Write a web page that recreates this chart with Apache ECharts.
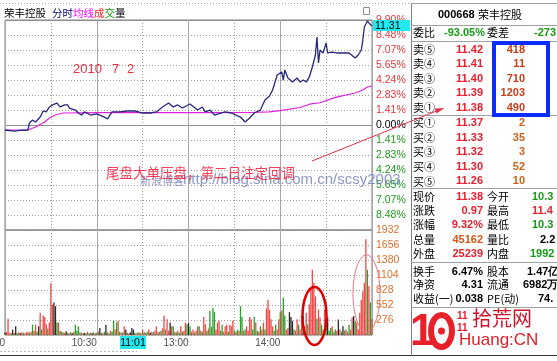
<!DOCTYPE html>
<html><head><meta charset="utf-8">
<script src="https://cdn.jsdelivr.net/npm/echarts@6/dist/echarts.min.js"></script>
<style>html,body{margin:0;padding:0;background:#fff;}#c{width:557px;height:361px;}</style>
</head><body><div id="c"></div>
<script>
// ---------- data ----------
const stockName = '荣丰控股';
const stockCode = '000668';
const pctMax = 9.90;                 // axis top / bottom in %
const volMax = 1932, volStep = 276;  // volume axis
const timeLabels = {0:'9:30', 60:'10:30', 120:'13:00', 180:'14:00'};
// price-axis tick labels, bottom (-9.90%, hidden) to top
const pctTickLabels = ['','8.48%','7.07%','5.65%','4.24%','2.83%','1.41%','0.00%','1.41%','2.83%','4.24%','5.65%','7.07%','8.48%','9.90%'];

// minute offset from 9:30 (0..240) and change vs previous close in %
const priceMinutes = [0,6,10,15,16,18,20,23,25,27,29,31,34,36,39,41,42,46,48,50,52,56,60,62,65,67,70,75,80,85,90,95,99,103,107,110,113,116,121,126,129,131,134,137,141,144,148,154,157,160,163,167,170,173,175,178,181,182,183,185,188,191,193,195,197,199,201,203,204,205,206,208,210,211,214,217,221,225,229,231,233,234,235,237,238,240];
const pricePct = [-0.47,-0.57,-0.50,-0.47,0.19,0.47,0.28,0.75,1.32,1.23,1.70,1.89,2.07,1.70,1.89,1.89,1.60,1.41,1.13,0.94,1.23,0.94,1.04,0.94,0.75,0.57,1.23,1.23,1.32,1.32,1.13,1.13,1.23,1.70,2.07,1.70,1.89,1.60,1.98,1.41,1.70,1.23,1.41,0.94,1.13,1.23,1.13,0.75,0.28,0.66,1.13,1.41,2.36,2.73,3.30,4.71,5.00,4.24,5.19,4.43,4.05,4.43,4.05,4.24,4.05,4.53,5.47,6.60,8.30,5.85,7.07,6.79,7.73,6.79,6.88,6.79,6.79,6.79,6.32,6.60,7.07,8.01,9.24,9.81,9.62,9.33];
const avgMinutes = [0,15,20,26,29,33,38,62,128,160,173,180,193,200,206,216,229,234,237,240];
const avgPct = [-0.47,-0.47,-0.19,0.28,0.66,0.94,1.13,1.16,1.16,1.18,1.23,1.35,1.65,2.00,2.10,2.60,3.02,3.30,3.58,3.68];

// per-minute volume (lots), index = minute from 9:30
const volumes = [
 40,60,300,40,30,100,40,160,30,50,
 30,50,40,30,50,60,40,60,190,80,
 190,60,160,410,100,360,330,200,120,230,
 950,560,600,530,230,230,80,60,50,40,
 70,40,30,50,30,60,190,80,160,50,
 40,30,40,30,60,30,40,30,50,30,
 40,60,130,40,30,60,190,50,30,80,
 60,260,100,230,260,60,40,50,160,100,
 40,30,50,130,100,40,30,50,40,30,
 100,50,40,60,100,40,60,50,80,160,
 50,60,80,120,360,100,290,80,230,160,
 160,60,50,80,40,160,60,80,230,200,
 220,160,60,100,50,80,160,160,80,60,
 330,200,80,120,440,150,500,420,100,230,
 260,80,190,60,160,190,60,190,160,260,
 80,60,100,80,530,330,80,100,160,80,
 330,290,100,330,230,80,60,160,100,230,
 100,490,650,460,290,160,80,190,100,290,
 420,450,690,360,100,130,420,330,260,100,
 80,290,190,100,360,345,160,410,200,560,
 840,1200,960,710,300,470,320,190,100,470,
 160,320,80,130,160,60,100,80,285,100,
 60,160,80,100,60,190,100,320,350,260,
 230,100,410,650,800,960,1760,1200,900,600,
 300];
// r = up (red), g = down (green), k = unchanged (black)
const volDir = 'krrrgkrkgr'+'krgrrrgrgr'+'rgkrgrrrgr'+'rrkkgrgrgr'+'kgrgkrgggr'+'grkgrgrkgr'+'grkgrgkrgr'+'ggrgrgrgrk'+'grkkkgrgrg'+'rgrgrkrgrr'+
 'grgrrgrrkr'+'grgrgrgrrg'+'kgrrgrrgrg'+'rrgrggggrr'+'rggrrrgrrr'+'grgrggrgrr'+'rrggrgrgrr'+'grrrrrggrr'+'grggrrkkkg'+'rrgrrkrrgr'+
 'rrrrgrrgrr'+'gkggrggrkr'+'gkrgrgrrkg'+'rrrrrrrgrg'+'r';

// quote panel
const sellLabels = ['卖⑤','卖④','卖③','卖②','卖①'];
const sellPrices = ['11.42','11.41','11.40','11.39','11.38'];
const sellVols = ['418','11','710','1203','490'];
const buyLabels = ['买①','买②','买③','买④','买⑤'];
const buyPrices = ['11.37','11.33','11.32','11.30','11.26'];
const buyVols = ['2','35','3','52','10'];
const statLabels1 = ['现价','涨跌','涨幅','总量','外盘'];
const statValues1 = ['11.38','0.97','9.32%','45162','25239'];
const statLabels2 = ['今开','最高','最低','量比','内盘'];
const statValues2 = ['10.3','11.4','10.3','2.2','1992'];
const infoLabels1 = ['换手','净资','收益(一)'];
const infoValues1 = ['6.47%','4.31','0.038'];
const infoLabels2 = ['股本','流通','PE(动)'];
const infoValues2 = ['1.47亿','6982万','74.'];
const weibi = '-93.05%', weicha = '-273';
const cursorPrice = '11.31', cursorTime = '11:01';
const dateText = ['2010','7','2'];
const noteText = '尾盘大单压盘，第二日注定回调';
const wmName = '新浪博客', wmUrl = 'http://blog.sina.com.cn/scsy2003';

// ---------- styles ----------
const CJK = '"Noto Sans CJK SC"';
const NUM = '"Liberation Sans"';
const RED = '#e8202e', GREEN = '#159a15', ORANGE = '#d0581e';
const step = pctMax / 7;

const priceData = priceMinutes.map((t,i)=>[t, pricePct[i]/step]);
const avgData = avgMinutes.map((t,i)=>[t, avgPct[i]/step]);
const dirColor = {r:'#f04848', g:'#27a327', k:'#2a2a2a'};
const volData = volumes.map((v,i)=>({value:[i, v], itemStyle:{color: dirColor[volDir[i]]}}));

const G = [];
function txt(x,y,s,fill,font,align,extra){ G.push(Object.assign({type:'text', z:100, silent:true, style:{x:x,y:y,text:s,fill:fill,font:font,align:align||'left',textAlign:align||'left',verticalAlign:'middle',textVerticalAlign:'middle'}}, extra||{})); }
function ln(x1,y1,x2,y2,stroke,w,dash,z){ G.push({type:'line', z:z||90, silent:true, shape:{x1:x1,y1:y1,x2:x2,y2:y2}, style:{stroke:stroke, lineWidth:w||1, lineDash:dash||null}}); }
function rect(x,y,w,h,style,z){ G.push({type:'rect', z:z||95, silent:true, shape:{x:x,y:y,width:w,height:h}, style:style}); }

// chart header
txt(4,13,stockName,'#000','10.5px '+CJK);
txt(52,13,'分时','#000080','10.5px '+CJK);
txt(73,13,'均线','#ff00ff','10.5px '+CJK);
txt(94,13,'成','#ff2020','10.5px '+CJK);
txt(104.5,13,'交','#10a010','10.5px '+CJK);
txt(115,13,'量','#000','10.5px '+CJK);
ln(0,3.5,411,3.5,'#a8a8a8',1,[1,2]);
rect(363.5,7.5,6,7,{fill:'#fff',stroke:'#909090',lineWidth:1},100);

// annotations
txt(73,69,dateText[0],'#e83040','13px '+NUM);
txt(112,69,dateText[1],'#e83040','13px '+NUM);
txt(127,69,dateText[2],'#e83040','13px '+NUM);
txt(140,181,wmName,'rgba(110,125,185,0.8)','11px '+CJK);
txt(183,180,wmUrl,'rgba(110,125,185,0.8)','15px '+NUM);
txt(106,173,noteText,'rgba(255,40,70,0.9)','13.5px '+CJK);
ln(312,161,441,109.2,'#e8304a',1,null,101);
G.push({type:'polygon', z:101, silent:true, shape:{points:[[444.5,108],[436.6,113.6],[434.6,108.6]]}, style:{fill:'#e8304a'}});
G.push({type:'ellipse', z:101, silent:true, shape:{cx:314.5,cy:316,rx:12,ry:29}, style:{fill:'none',stroke:'#e00000',lineWidth:2.5}});
G.push({type:'ellipse', z:101, silent:true, shape:{cx:366.5,cy:293.5,rx:13.5,ry:38.5}, style:{fill:'none',stroke:'#e87585',lineWidth:1}});

// cursor labels
rect(373,20,37,11,{fill:'#22e8f0'},100);
txt(375,25.8,cursorPrice,'#000','10.5px '+NUM,'left',{z:101});
rect(120,336,26,13,{fill:'#22e8f0'},100);
txt(133,342.8,cursorTime,'#000','10.5px '+NUM,'center',{z:101});

// bottom bar
ln(0,351.5,137,351.5,'#b8b8b8',1,[2,2]);
ln(0,355.5,557,355.5,'#333',1);

// quote panel frame
ln(411.5,3,411.5,356,'#808080',1);
[3.5,25.5,41.5,115.5,188.5,262.5,307.5].forEach(y=>ln(411,y,557,y,'#a0a0a0',1));
txt(438,15,stockCode,'#000','bold 11px '+NUM);
txt(478,15,stockName,'#000','11px '+CJK);
txt(413,33,'委比','#000','11px '+CJK);
txt(485,33,weibi,GREEN,'bold 11px '+NUM,'right');
txt(487,33,'委差','#000','11px '+CJK);
txt(556,33,weicha,GREEN,'bold 11px '+NUM,'right');
sellLabels.forEach((l,i)=>{ const y=49.5+i*14.6;
  txt(413,y,l,'#000','11px '+CJK);
  txt(483,y,sellPrices[i],RED,'bold 11px '+NUM,'right');
  txt(525,y,sellVols[i],'#c8401e','bold 11px '+NUM,'right');
});
rect(494,43,54,72,{fill:'none',stroke:'#0a2cff',lineWidth:4},99);
buyLabels.forEach((l,i)=>{ const y=123+i*14.6;
  txt(413,y,l,'#000','11px '+CJK);
  txt(483,y,buyPrices[i],RED,'bold 11px '+NUM,'right');
  txt(525,y,buyVols[i],'#c8641e','bold 11px '+NUM,'right');
});
const s1c = [RED,RED,RED,ORANGE,RED];
const s2c = [GREEN,RED,GREEN,'#000',GREEN];
const s2x = [532,532,532,540,530];
statLabels1.forEach((l,i)=>{ const y=196.5+i*14.4;
  txt(413,y,l,'#000','11px '+CJK);
  txt(483,y,statValues1[i],s1c[i],'bold 11px '+NUM,'right');
  txt(487,y,statLabels2[i],'#000','11px '+CJK);
  txt(s2x[i],y,statValues2[i],s2c[i],'bold 11px '+NUM);
});
const i2x = [527,523,538];
infoLabels1.forEach((l,i)=>{ const y=271.5+i*13.8;
  txt(413,y,l,'#000','11px '+CJK);
  txt(483,y,infoValues1[i],'#000','bold 11px '+NUM,'right');
  txt(487,y,infoLabels2[i],'#000','11px '+CJK);
  txt(i2x[i],y,infoValues2[i],'#000','bold 11px '+NUM);
});
// logo
txt(410,333,'1','#e8202a','bold 44px '+NUM);
G.push({type:'ellipse', z:100, silent:true, shape:{cx:441.5,cy:331,rx:10.5,ry:16}, style:{fill:'none',stroke:'#e8202a',lineWidth:6}});
G.push({type:'circle', z:100, silent:true, shape:{cx:441.5,cy:331,r:3.5}, style:{fill:'#e8202a'}});
txt(457,316.5,'11',RED,'bold 10px '+NUM);
txt(457,328.5,'11',RED,'bold 10px '+NUM);
txt(472,318,'拾荒网','#d4102a','20px '+CJK);
txt(459,340.5,'Huang:CN','#e0202a','17px '+NUM);

// ---------- chart ----------
const dotted = {color:'#a0a0a0', type:[1,2], width:1};
const solid = {color:'#a8a8a8', type:'solid', width:1};
const noAx = {axisLine:{show:false}, axisTick:{show:false}};
const lblFont = {fontSize:10.5, fontFamily:'Liberation Sans'};
const chart = echarts.init(document.getElementById('c'), null, {renderer:'canvas'});
chart.setOption({
  animation:false,
  backgroundColor:'#fff',
  grid:[
    {left:5, top:20, width:367, height:210, show:true, borderColor:'#808080', borderWidth:1, backgroundColor:'#fff', containLabel:false, outerBoundsMode:'none'},
    {left:5, top:230, width:367, height:105, show:true, borderColor:'#808080', borderWidth:1, backgroundColor:'#fff', containLabel:false, outerBoundsMode:'none'}
  ],
  xAxis:[
    Object.assign({gridIndex:0, type:'value', min:0, max:240, interval:30, position:'bottom', axisLabel:{show:false}, splitLine:{show:true, lineStyle:dotted}}, noAx),
    Object.assign({gridIndex:0, type:'value', min:0, max:240, interval:60, position:'top', axisLabel:{show:false}, splitLine:{show:true, lineStyle:solid}}, noAx),
    Object.assign({gridIndex:1, type:'value', min:0, max:240, interval:30, position:'top', axisLabel:{show:false}, splitLine:{show:true, lineStyle:dotted}}, noAx),
    Object.assign({gridIndex:1, type:'value', min:0, max:240, interval:60, position:'bottom', splitLine:{show:true, lineStyle:solid},
      axisLabel:{show:true, margin:3, align:'right', color:'#505050', fontSize:10, fontFamily:'Liberation Sans',
        formatter:v=>timeLabels[v]||''}}, noAx)
  ],
  yAxis:[
    Object.assign({gridIndex:0, type:'value', min:-7, max:7, interval:1, position:'right', splitLine:{show:true, lineStyle:dotted},
      axisLabel:{show:true, margin:4, fontSize:10.5, fontFamily:'Liberation Sans',
        formatter:v=>{ const k=Math.round(v); const s=pctTickLabels[k+7]; if(!s) return ''; return k>0?'{u|'+s+'}':(k<0?'{d|'+s+'}':'{z|'+s+'}'); },
        rich:{u:Object.assign({color:'#e8383a'},lblFont), d:Object.assign({color:'#1e9a1e'},lblFont), z:Object.assign({color:'#000'},lblFont)}}}, noAx),
    Object.assign({gridIndex:0, type:'value', min:-7, max:7, interval:7, position:'left', axisLabel:{show:false}, splitLine:{show:true, lineStyle:{color:'#909090', width:1}}}, noAx),
    Object.assign({gridIndex:1, type:'value', min:0, max:volMax, interval:volStep, position:'right', splitLine:{show:true, lineStyle:dotted},
      axisLabel:{show:true, margin:4, fontSize:10.5, fontFamily:'Liberation Sans', color:'#e0702a', formatter:v=>v===0?'':String(v)}}, noAx)
  ],
  series:[
    {type:'bar', xAxisIndex:2, yAxisIndex:2, data:volData, barWidth:1.3, z:2},
    {type:'line', xAxisIndex:0, yAxisIndex:0, data:avgData, showSymbol:false, symbol:'none', lineStyle:{color:'#e020e0', width:1.2}, z:3},
    {type:'line', xAxisIndex:0, yAxisIndex:0, data:priceData, showSymbol:false, symbol:'none', lineStyle:{color:'#28287e', width:1.3}, z:4}
  ],
  graphic:{elements:G}
});
</script></body></html>
